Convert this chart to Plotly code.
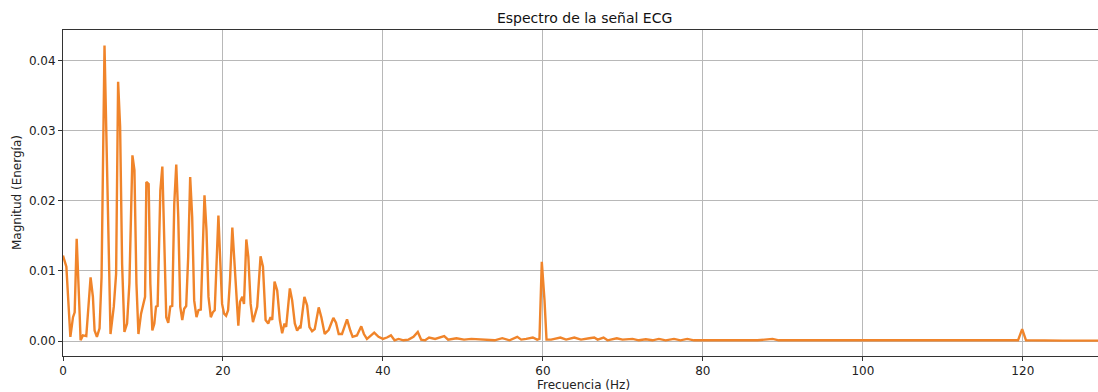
import plotly.graph_objects as go

# Frequency (Hz) and magnitude
freq = [
    0.0, 0.42, 0.92, 1.25, 1.46, 1.71, 2.08, 2.2, 2.49, 2.91, 3.45, 3.74, 3.95, 4.24, 4.57, 4.82,
    5.19, 5.4, 5.69, 5.94, 6.35, 6.64, 6.89, 7.14, 7.39, 7.68, 8.01, 8.3, 8.68, 8.93, 9.18, 9.43,
    9.76, 10.09, 10.26, 10.42, 10.71, 10.92, 11.17, 11.42, 11.63, 11.83, 12.17, 12.42, 12.67, 12.91,
    13.16, 13.41, 13.66, 13.91, 14.16, 14.41, 14.66, 14.91, 15.15, 15.4, 15.65, 15.9, 16.15, 16.4,
    16.69, 16.94, 17.23, 17.48, 17.69, 17.94, 18.19, 18.48, 18.73, 18.97, 19.22, 19.43, 19.64, 19.89,
    20.14, 20.39, 20.64, 20.88, 21.17, 21.38, 21.67, 21.92, 22.13, 22.42, 22.63, 22.92, 23.17, 23.46,
    23.75, 24.28, 24.7, 25.0, 25.33, 25.66, 25.95, 26.16, 26.45, 26.78, 27.11, 27.4, 27.69, 27.9,
    28.36, 28.65, 28.98, 29.27, 29.56, 29.69, 30.18, 30.52, 30.81, 31.14, 31.47, 31.97, 32.3, 32.72,
    33.22, 33.8, 34.13, 34.47, 34.88, 35.51, 35.92, 36.21, 36.75, 37.29, 37.62, 38.0, 38.41, 38.91,
    39.45, 40.0, 40.5, 41.0, 41.45, 41.95, 42.57, 43.2, 43.82, 44.36, 44.78, 45.27, 45.77, 46.52,
    47.66, 48.15, 49.19, 50.14, 51.06, 52.72, 53.96, 54.92, 55.83, 56.79, 57.29, 57.91, 58.74, 59.28,
    59.57, 59.86, 60.2, 60.45, 61.03, 62.19, 62.9, 63.93, 64.76, 65.8, 66.42, 66.84, 67.58, 68.08,
    69.24, 69.95, 71.2, 72.0, 72.86, 73.7, 74.5, 75.35, 76.39, 77.2, 78.04, 78.9, 81.57, 83.4,
    86.8, 88.71, 89.5, 93.8, 100.0, 104.2, 110.9, 119.4, 119.92, 120.4, 125.0, 128.9, 129.4,
]
magnitude = [
    0.0122, 0.0106, 0.0006, 0.0034, 0.0041, 0.0146, 0.0039, 0.0001, 0.0008, 0.0007, 0.0091, 0.0063,
    0.0015, 0.0006, 0.0018, 0.0091,
    0.0422, 0.031, 0.011, 0.001, 0.0049, 0.0096, 0.037, 0.0306, 0.011, 0.0013, 0.0025, 0.0082,
    0.0265, 0.0244, 0.0082, 0.001,
    0.0039, 0.0058, 0.0063, 0.0227, 0.0224, 0.0082, 0.0015, 0.0025, 0.0049, 0.005, 0.0215, 0.0249,
    0.0149, 0.0034,
    0.0026, 0.0049, 0.005, 0.0196, 0.0252, 0.0177, 0.0049, 0.003, 0.0046, 0.005, 0.012, 0.0234,
    0.0177, 0.0058,
    0.0034, 0.0044, 0.0045, 0.012, 0.0208, 0.0158, 0.0063, 0.0034, 0.0041, 0.0044, 0.011, 0.0179,
    0.012, 0.0053,
    0.0039, 0.0036, 0.0044, 0.0087, 0.0162, 0.012, 0.0063, 0.0022, 0.0056, 0.0063, 0.0053, 0.0145,
    0.012, 0.0053,
    0.0027, 0.0049, 0.0121, 0.0106, 0.003, 0.0025, 0.0034, 0.003, 0.0085, 0.0072, 0.003, 0.0011,
    0.0025, 0.002,
    0.0075, 0.0058, 0.0025, 0.0015, 0.002, 0.0018, 0.0063, 0.0051, 0.002, 0.0014, 0.0017, 0.0048,
    0.0034, 0.001,
    0.0016, 0.0033, 0.0026, 0.001, 0.001, 0.0031, 0.0015, 0.0006, 0.0008, 0.0021, 0.001, 0.0003,
    0.0007, 0.0012,
    0.0006, 0.0003, 0.0005, 0.0008, 0.0001, 0.0003, 0.0001, 0.0002, 0.0006, 0.0013, 0.0002, 0.0001,
    0.0005, 0.0003,
    0.0007, 0.0002, 0.0004, 0.0002, 0.0003, 0.0002, 0.0001, 0.0004, 0.0001, 0.0006, 0.0002, 0.0003,
    0.0005, 0.0002,
    0.0003, 0.0113, 0.0058, 0.0002, 0.0002, 0.0005, 0.0002, 0.0005, 0.0002, 0.0004, 0.0005, 0.0002,
    0.0005, 0.0001,
    0.0004, 0.0002, 0.0003, 0.0001, 0.00024, 0.0001, 0.0003, 0.0001, 0.0003, 0.0001, 0.0003, 0.0001,
    0.00015, 0.0001,
    0.0001, 0.0003, 0.0001, 0.0001, 0.00005, 0.0001, 0.0001, 0.0001, 0.0017, 0.0001, 0.00005,
    0.00005, 0.00005,
]

title_text = "Espectro de la señal ECG"
x_title = "Frecuencia (Hz)"
y_title = "Magnitud (Energía)"
x_ticks = [0, 20, 40, 60, 80, 100, 120]
y_ticks = [0.00, 0.01, 0.02, 0.03, 0.04]

fig = go.Figure()
fig.add_trace(go.Scatter(
    x=freq, y=magnitude, mode="lines",
    line=dict(color="#f0842a", width=2.4),
    showlegend=False,
))

font = "DejaVu Sans"
fig.update_layout(
    width=1098, height=392,
    margin=dict(l=63, r=0, t=30, b=36),
    paper_bgcolor="white", plot_bgcolor="white",
    font=dict(family=font, size=12, color="#222222"),
    title=dict(text=title_text, xref="paper", x=0.504, xanchor="center",
               yref="container", y=1 - 18 / 392, yanchor="middle",
               font=dict(family=font, size=14, color="#111111")),
    annotations=[
        dict(text=x_title, xref="paper", yref="paper", x=0.503, y=0, yanchor="middle",
             yshift=-29, showarrow=False, font=dict(family=font, size=12, color="#222222")),
        dict(text=y_title, xref="paper", yref="paper", x=0, y=0.5, xanchor="center",
             xshift=-46, textangle=-90, showarrow=False,
             font=dict(family=font, size=12, color="#222222")),
    ],
)
fig.update_xaxes(
    range=[0, 129.4], tickvals=x_ticks, ticktext=[str(v) for v in x_ticks],
    showgrid=True, gridcolor="#b8b8b8", gridwidth=1,
    showline=True, linecolor="#333333", linewidth=1, mirror=True,
    ticks="outside", ticklen=4, tickcolor="#333333",
    zeroline=False,
)
fig.update_yaxes(
    range=[-0.00214, 0.0444], tickvals=y_ticks, ticktext=[f"{v:.2f}" for v in y_ticks],
    showgrid=True, gridcolor="#b8b8b8", gridwidth=1,
    showline=True, linecolor="#333333", linewidth=1,
    ticks="outside", ticklen=4, tickcolor="#333333",
    zeroline=False,
)

# Remove the page's default body margin so the figure fills the window exactly.
fig.write_html(
    "out.html",
    config={"displayModeBar": False},
    post_script="document.body.style.margin='0';document.body.style.overflow='hidden';",
)
